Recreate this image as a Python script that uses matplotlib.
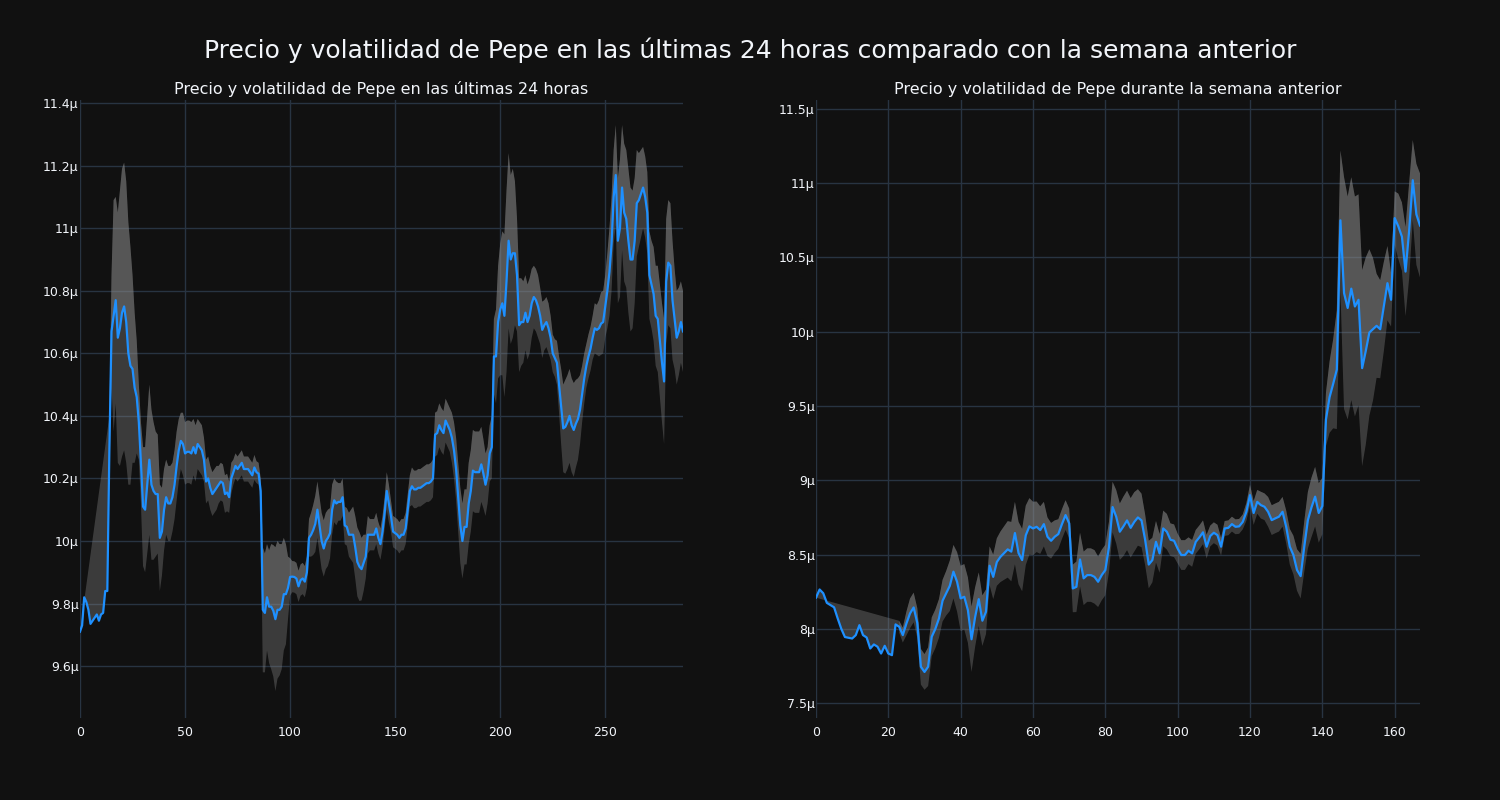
import numpy as np
import matplotlib
matplotlib.use("Agg")
import matplotlib.pyplot as plt
from matplotlib.ticker import FuncFormatter

# Precio de Pepe en micro-unidades (µ)
# Ultimas 24 horas, una muestra cada 5 minutos (288 puntos)
precio_24h = [
    9.71, 9.73, 9.82, 9.805, 9.78, 9.735, 9.745, 9.755, 9.765, 9.745,
    9.765, 9.77, 9.84, 9.84, 10.3, 10.67, 10.72, 10.77, 10.65, 10.68,
    10.73, 10.75, 10.7, 10.6, 10.56, 10.55, 10.49, 10.46, 10.38, 10.25,
    10.11, 10.1, 10.18, 10.26, 10.18, 10.16, 10.15, 10.15, 10.01, 10.03,
    10.1, 10.14, 10.12, 10.12, 10.14, 10.18, 10.24, 10.29, 10.32, 10.31,
    10.28, 10.285, 10.285, 10.28, 10.3, 10.28, 10.31, 10.3, 10.29, 10.26,
    10.19, 10.2, 10.17, 10.15, 10.16, 10.17, 10.18, 10.19, 10.185, 10.15,
    10.155, 10.14, 10.2, 10.22, 10.24, 10.23, 10.24, 10.25, 10.23, 10.23,
    10.23, 10.22, 10.21, 10.235, 10.22, 10.215, 10.16, 9.78, 9.77, 9.82,
    9.79, 9.79, 9.777, 9.75, 9.78, 9.78, 9.79, 9.83, 9.83, 9.85,
    9.885, 9.886, 9.885, 9.88, 9.855, 9.875, 9.88, 9.87, 9.9, 10.01,
    10.02, 10.035, 10.055, 10.1, 10.05, 10.0, 9.976, 10.0, 10.01, 10.025,
    10.1, 10.13, 10.12, 10.125, 10.125, 10.14, 10.05, 10.045, 10.02, 10.02,
    10.02, 9.98, 9.933, 9.918, 9.91, 9.93, 9.95, 10.02, 10.02, 10.02,
    10.02, 10.04, 10.01, 9.99, 10.03, 10.09, 10.16, 10.12, 10.08, 10.03,
    10.025, 10.02, 10.01, 10.02, 10.02, 10.04, 10.1, 10.16, 10.175, 10.165,
    10.165, 10.17, 10.17, 10.175, 10.18, 10.185, 10.185, 10.19, 10.2, 10.34,
    10.345, 10.37, 10.355, 10.345, 10.385, 10.37, 10.355, 10.33, 10.29, 10.23,
    10.14, 10.05, 10.0, 10.045, 10.045, 10.12, 10.16, 10.225, 10.22, 10.22,
    10.22, 10.245, 10.215, 10.18, 10.21, 10.28, 10.3, 10.59, 10.59, 10.7,
    10.74, 10.76, 10.72, 10.83, 10.96, 10.9, 10.92, 10.92, 10.85, 10.69,
    10.7, 10.7, 10.73, 10.7, 10.72, 10.76, 10.78, 10.77, 10.75, 10.72,
    10.675, 10.69, 10.7, 10.68, 10.65, 10.6, 10.585, 10.57, 10.5, 10.43,
    10.36, 10.365, 10.38, 10.4, 10.37, 10.355, 10.375, 10.39, 10.42, 10.47,
    10.52, 10.56, 10.59, 10.615, 10.65, 10.68, 10.675, 10.68, 10.695, 10.7,
    10.75, 10.8, 10.86, 10.95, 11.1, 11.17, 10.96, 11.0, 11.13, 11.05,
    11.03, 10.96, 10.9, 10.9, 10.96, 11.08, 11.09, 11.11, 11.13, 11.1,
    11.05, 10.85, 10.82, 10.79, 10.72, 10.71, 10.64, 10.57, 10.51, 10.83,
    10.89, 10.88, 10.77, 10.71, 10.65, 10.67, 10.7, 10.67,
]

# volatilidad (desviacion movil) a partir del punto 14
inicio_vol_24h = 14
vol_24h = [
    0.10, 0.18, 0.37, 0.33, 0.40, 0.44, 0.46, 0.46, 0.45, 0.42,
    0.38, 0.30, 0.24, 0.18, 0.12, 0.13, 0.19, 0.20, 0.22, 0.24,
    0.24, 0.22, 0.20, 0.19, 0.17, 0.14, 0.13, 0.12, 0.12, 0.12,
    0.11, 0.11, 0.11, 0.10, 0.09, 0.10, 0.10, 0.10, 0.10, 0.10,
    0.09, 0.09, 0.08, 0.08, 0.08, 0.07, 0.07, 0.07, 0.07, 0.07,
    0.07, 0.07, 0.06, 0.06, 0.06, 0.06, 0.06, 0.05, 0.05, 0.04,
    0.04, 0.04, 0.04, 0.04, 0.04, 0.04, 0.04, 0.04, 0.04, 0.04,
    0.035, 0.035, 0.04, 0.20, 0.19, 0.17, 0.18, 0.20, 0.21, 0.23,
    0.22, 0.21, 0.20, 0.18, 0.16, 0.10, 0.06, 0.05, 0.05, 0.05,
    0.05, 0.05, 0.05, 0.05, 0.05, 0.06, 0.07, 0.08, 0.09, 0.09,
    0.09, 0.09, 0.09, 0.09, 0.09, 0.08, 0.08, 0.07, 0.07, 0.06,
    0.06, 0.06, 0.06, 0.06, 0.07, 0.08, 0.09, 0.10, 0.11, 0.11,
    0.10, 0.09, 0.07, 0.06, 0.05, 0.05, 0.05, 0.05, 0.05, 0.05,
    0.05, 0.05, 0.06, 0.06, 0.05, 0.05, 0.05, 0.05, 0.05, 0.05,
    0.05, 0.05, 0.05, 0.05, 0.06, 0.06, 0.06, 0.06, 0.06, 0.06,
    0.06, 0.06, 0.06, 0.06, 0.06, 0.07, 0.07, 0.07, 0.07, 0.07,
    0.07, 0.07, 0.07, 0.08, 0.09, 0.10, 0.11, 0.12, 0.12, 0.12,
    0.12, 0.13, 0.13, 0.13, 0.13, 0.13, 0.13, 0.12, 0.11, 0.10,
    0.09, 0.09, 0.10, 0.12, 0.15, 0.18, 0.21, 0.23, 0.26, 0.29,
    0.28, 0.27, 0.27, 0.23, 0.18, 0.15, 0.14, 0.13, 0.12, 0.12,
    0.12, 0.11, 0.10, 0.10, 0.10, 0.09, 0.09, 0.08, 0.08, 0.08,
    0.07, 0.06, 0.06, 0.07, 0.09, 0.12, 0.14, 0.15, 0.15, 0.15,
    0.15, 0.15, 0.14, 0.13, 0.11, 0.09, 0.08, 0.07, 0.07, 0.07,
    0.07, 0.08, 0.08, 0.09, 0.10, 0.10, 0.10, 0.12, 0.14, 0.15,
    0.15, 0.16, 0.20, 0.22, 0.20, 0.22, 0.22, 0.23, 0.23, 0.22,
    0.20, 0.17, 0.15, 0.14, 0.13, 0.13, 0.13, 0.14, 0.14, 0.15,
    0.16, 0.17, 0.18, 0.19, 0.20, 0.20, 0.20, 0.20, 0.19, 0.16,
    0.15, 0.14, 0.13, 0.13,
]

# Semana anterior, una muestra por hora (168 puntos)
precio_semana = [
    8.21, 8.265, 8.24, 8.175, 8.16, 8.145, 8.07, 8.0, 7.945, 7.94,
    7.935, 7.958, 8.025, 7.958, 7.942, 7.868, 7.895, 7.88, 7.834, 7.886,
    7.834, 7.823, 8.03, 8.014, 7.958, 8.036, 8.104, 8.144, 8.04, 7.745,
    7.71, 7.745, 7.947, 8.0, 8.07, 8.19, 8.24, 8.29, 8.385, 8.317,
    8.205, 8.216, 8.126, 7.93, 8.08, 8.2, 8.055, 8.115, 8.425, 8.35,
    8.45, 8.485, 8.51, 8.535, 8.52, 8.645, 8.51, 8.463, 8.63, 8.69,
    8.676, 8.687, 8.665, 8.705, 8.62, 8.593, 8.62, 8.638, 8.705, 8.766,
    8.71, 8.272, 8.283, 8.467, 8.34, 8.362, 8.362, 8.35, 8.317, 8.362,
    8.396, 8.55, 8.82, 8.755, 8.654, 8.69, 8.73, 8.68, 8.72, 8.75,
    8.73, 8.6, 8.433, 8.463, 8.586, 8.508, 8.676, 8.654, 8.6, 8.593,
    8.54, 8.497, 8.497, 8.526, 8.508, 8.586, 8.616, 8.65, 8.553, 8.625,
    8.647, 8.631, 8.553, 8.676, 8.68, 8.705, 8.687, 8.69, 8.72, 8.788,
    8.9, 8.78, 8.855, 8.833, 8.822, 8.788, 8.732, 8.744, 8.755, 8.788,
    8.687, 8.553, 8.497, 8.396, 8.355, 8.553, 8.732, 8.818, 8.89, 8.78,
    8.827, 9.41, 9.56, 9.65, 9.745, 10.75, 10.26, 10.16, 10.29, 10.17,
    10.215, 9.755, 9.87, 9.995, 10.017, 10.04, 10.017, 10.17, 10.327, 10.215,
    10.765, 10.71, 10.64, 10.405, 10.68, 11.02, 10.79, 10.715,
]

inicio_vol_semana = 23
vol_semana = [
    0.04, 0.05, 0.08, 0.10, 0.10, 0.10, 0.12, 0.12, 0.13, 0.13,
    0.13, 0.13, 0.14, 0.15, 0.17, 0.18, 0.20, 0.22, 0.22, 0.22,
    0.22, 0.20, 0.18, 0.17, 0.15, 0.13, 0.15, 0.16, 0.17, 0.18,
    0.19, 0.20, 0.21, 0.21, 0.21, 0.20, 0.19, 0.18, 0.17, 0.16,
    0.15, 0.13, 0.12, 0.11, 0.10, 0.10, 0.10, 0.10, 0.16, 0.17,
    0.18, 0.18, 0.18, 0.18, 0.18, 0.17, 0.17, 0.17, 0.17, 0.17,
    0.18, 0.19, 0.20, 0.20, 0.20, 0.20, 0.19, 0.18, 0.17, 0.16,
    0.15, 0.14, 0.13, 0.12, 0.12, 0.11, 0.11, 0.10, 0.10, 0.10,
    0.09, 0.09, 0.08, 0.08, 0.08, 0.08, 0.07, 0.07, 0.07, 0.06,
    0.05, 0.05, 0.05, 0.05, 0.05, 0.05, 0.06, 0.07, 0.08, 0.08,
    0.09, 0.09, 0.10, 0.10, 0.10, 0.10, 0.10, 0.11, 0.12, 0.13,
    0.14, 0.15, 0.17, 0.19, 0.20, 0.20, 0.20, 0.19, 0.18, 0.24,
    0.30, 0.40, 0.47, 0.78, 0.75, 0.75, 0.74, 0.71, 0.66, 0.63,
    0.56, 0.48, 0.35, 0.33, 0.30, 0.25, 0.18, 0.18, 0.22, 0.23,
    0.30, 0.32, 0.27, 0.34, 0.35,
]

yticks_24h = [9.6, 9.8, 10, 10.2, 10.4, 10.6, 10.8, 11, 11.2, 11.4]
yticks_semana = [7.5, 8, 8.5, 9, 9.5, 10, 10.5, 11, 11.5]

titulo = "Precio y volatilidad de Pepe en las últimas 24 horas comparado con la semana anterior"
titulo_24h = "Precio y volatilidad de Pepe en las últimas 24 horas"
titulo_semana = "Precio y volatilidad de Pepe durante la semana anterior"

FONDO = "#111111"
REJILLA = "#283442"
TEXTO = "#f2f5fa"
AZUL = "#1e90ff"
GRIS = "#888888"


def dibujar(ax, precio, vol, inicio, titulo_ax, yticks):
    precio = np.array(precio)
    vol = np.array(vol)
    x = np.arange(len(precio))
    xv = x[inicio:]
    sup = precio[inicio:] + vol
    inf = precio[inicio:] - vol

    # relleno entre precio y banda superior (se cierra contra el primer precio)
    ax.fill(np.concatenate([xv, x[::-1]]), np.concatenate([sup, precio[::-1]]),
            color=GRIS, alpha=0.36, lw=0)
    # relleno entre banda inferior y superior
    ax.fill(np.concatenate([xv, xv[::-1]]), np.concatenate([inf, sup[::-1]]),
            color=GRIS, alpha=0.36, lw=0)
    ax.plot(x, precio, color=AZUL, lw=1.6)

    ax.set_facecolor(FONDO)
    ax.set_xlim(0, len(precio) - 1)
    ax.set_yticks(yticks)
    ax.yaxis.set_major_formatter(FuncFormatter(lambda v, p: f"{v:g}µ"))
    ax.grid(True, color=REJILLA, lw=1)
    ax.set_axisbelow(True)
    for s in ax.spines.values():
        s.set_visible(False)
    ax.tick_params(length=0, colors=TEXTO, labelsize=9)
    ax.tick_params(axis="x", pad=6)
    ax.tick_params(axis="y", pad=1)
    ax.set_title(titulo_ax, color=TEXTO, fontsize=11.5, pad=4)


fig = plt.figure(figsize=(15, 8), dpi=100, facecolor=FONDO)
ax1 = fig.add_axes([80 / 1500, 1 - 718 / 800, 603 / 1500, 618 / 800])
ax2 = fig.add_axes([816 / 1500, 1 - 718 / 800, 604 / 1500, 618 / 800])

dibujar(ax1, precio_24h, vol_24h, inicio_vol_24h, titulo_24h, yticks_24h)
ax1.set_ylim(9.434, 11.41)
ax1.set_xticks([0, 50, 100, 150, 200, 250])

dibujar(ax2, precio_semana, vol_semana, inicio_vol_semana, titulo_semana, yticks_semana)
ax2.set_ylim(7.40, 11.56)
ax2.set_xticks([0, 20, 40, 60, 80, 100, 120, 140, 160])

fig.text(0.5, 1 - 50 / 800, titulo, color=TEXTO, fontsize=18, ha="center", va="center")

fig.savefig("out.png", dpi=100, facecolor=FONDO)
